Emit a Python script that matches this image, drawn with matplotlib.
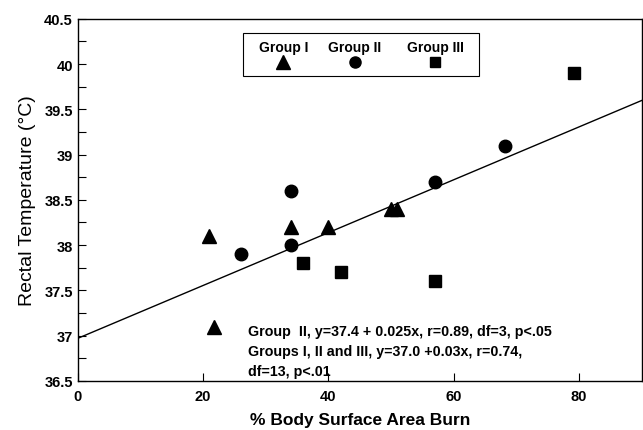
import matplotlib
matplotlib.use("Agg")
import matplotlib.pyplot as plt
from matplotlib.patches import Rectangle
import numpy as np

plt.rcParams["font.family"] = ["Liberation Sans", "DejaVu Sans"]

# % body surface area burn vs. rectal temperature, per group
g1_x = [21.0, 21.8, 34.0, 40.0, 50.0, 51.0]
g1_y = [38.1, 37.1, 38.2, 38.2, 38.4, 38.4]
g2_x = [26.0, 34.0, 34.0, 57.0, 68.2]
g2_y = [37.9, 38.0, 38.6, 38.7, 39.1]
g3_x = [36.0, 42.0, 57.0, 79.2]
g3_y = [37.8, 37.7, 37.6, 39.9]

# overall fitted line (as drawn in the figure)
fit_intercept = 36.97
fit_slope = 0.0292

group_labels = ["Group I", "Group II", "Group III"]
group_markers = ["^", "o", "s"]
group_msizes = [10.5, 9, 8]

annotation = [
    "Group  II, y=37.4 + 0.025x, r=0.89, df=3, p<.05",
    "Groups I, II and III, y=37.0 +0.03x, r=0.74,",
    "df=13, p<.01",
]

fig = plt.figure(figsize=(6.43, 4.31), dpi=100)
ax = fig.add_axes([0.121, 0.114, 0.877, 0.840])

series = [(g1_x, g1_y), (g2_x, g2_y), (g3_x, g3_y)]
for (xs, ys), m, ms in zip(series, group_markers, group_msizes):
    ax.plot(xs, ys, linestyle="none", marker=m, markersize=ms, color="black")

xl = np.array([0, 90])
ax.plot(xl, fit_intercept + fit_slope * xl, color="black", lw=1.0)

ax.set_xlim(0, 90)
ax.set_ylim(36.5, 40.5)
ax.set_xticks([0, 20, 40, 60, 80])
ax.set_yticks(np.arange(36.5, 40.51, 0.5))
ax.set_yticks(np.arange(36.5, 40.51, 0.25), minor=True)
ax.set_yticklabels(["36.5", "37", "37.5", "38", "38.5", "39", "39.5", "40", "40.5"])
ax.tick_params(axis="both", which="both", direction="in", length=6, width=0.8,
               labelsize=10.5)
ax.tick_params(axis="x", pad=6)
for lab in ax.get_xticklabels() + ax.get_yticklabels():
    lab.set_fontweight("bold")
for s in ax.spines.values():
    s.set_linewidth(1.0)

ax.set_xlabel("% Body Surface Area Burn", fontsize=12.5, fontweight="bold", labelpad=6)
ax.set_ylabel("Rectal Temperature (°C)", fontsize=14, labelpad=6)

# legend box with labels above markers
ax.add_patch(Rectangle((26.4, 39.87), 37.6, 0.47, fill=False, lw=0.8,
                       edgecolor="black", zorder=3))
leg_x = [32.8, 44.2, 57.0]
for lx, lab, m, ms in zip(leg_x, group_labels, group_markers, group_msizes):
    ax.text(lx, 40.19, lab, ha="center", va="center", fontsize=10,
            fontweight="bold")
    ax.plot([lx], [40.02], marker=m, markersize=ms - 1, color="black",
            linestyle="none")

for i, line in enumerate(annotation):
    ax.text(27.2, 37.05 - i * 0.22, line, ha="left", va="center",
            fontsize=10.3, fontweight="bold")

fig.savefig("out.png", dpi=100)
